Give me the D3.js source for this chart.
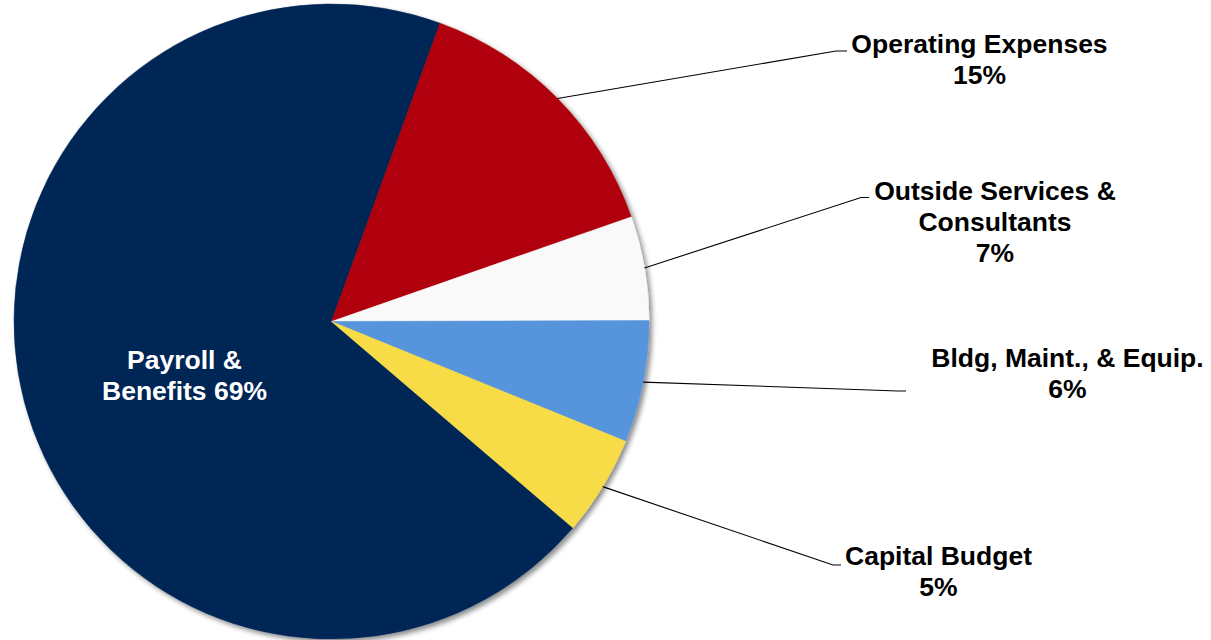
<!DOCTYPE html>
<html>
<head>
<meta charset="utf-8">
<script src="https://cdn.jsdelivr.net/npm/d3@7"></script>
<style>
  html, body { margin: 0; padding: 0; background: #ffffff; }
  svg { display: block; }
  text { font-family: "Liberation Sans", Arial, sans-serif; font-weight: bold; }
</style>
</head>
<body>
<svg id="chart" width="1211" height="640"></svg>
<script>
// ---- data ----
const categories = ["Payroll & Benefits", "Operating Expenses", "Outside Services & Consultants", "Bldg, Maint., & Equip.", "Capital Budget"];
const values = [69.3, 14.1, 5.3, 6.2, 5.1];          // slice sizes as drawn
const pctLabels = ["69%", "15%", "7%", "6%", "5%"];   // percentages printed on the chart
const labelLines = [
  ["Payroll &", "Benefits 69%"],
  ["Operating Expenses", "15%"],
  ["Outside Services &", "Consultants", "7%"],
  ["Bldg, Maint., & Equip.", "6%"],
  ["Capital Budget", "5%"]
];
const colors = ["#002856", "#b00009", "#f9f9f9", "#5795dc", "#f7dc46"];

// ---- layout ----
const W = 1211, H = 640;
const cx = 331.5, cy = 321.5, R = 317.5;
const fontSize = 26.5, lineH = 31.3;
// label anchor: x centre, first baseline, leader elbow x, leader end x, leader y
const labelLayout = [
  { x: 184.5, y: 368.5, inside: true },
  { x: 979.5, y: 52.5, ex: 836, lx: 847, ly: 51 },
  { x: 995, y: 199.5, ex: 861, lx: 869, ly: 197.5 },
  { x: 1067.5, y: 366.5, ex: 898, lx: 906, ly: 391 },
  { x: 938.5, y: 564.5, ex: 833, lx: 841, ly: 565 }
];

const svg = d3.select("#chart");
const defs = svg.append("defs");
const f = defs.append("filter").attr("id", "shadow")
  .attr("x", "-10%").attr("y", "-10%").attr("width", "120%").attr("height", "120%");
f.append("feDropShadow").attr("dx", 3).attr("dy", 3).attr("stdDeviation", 2.5)
  .attr("flood-color", "#000").attr("flood-opacity", 0.45);

const deg = Math.PI / 180;
const data = categories.map((c, i) => ({ name: c, value: values[i], color: colors[i], i }));
const total = d3.sum(values);
const payrollAngle = values[0] / total * 2 * Math.PI;
const start = 20 * deg - payrollAngle;

const pie = d3.pie().value(d => d.value).sort(null)
  .startAngle(start).endAngle(start + 2 * Math.PI);
const arcs = pie(data);
const arc = d3.arc().innerRadius(0).outerRadius(R);

const g = svg.append("g").attr("transform", `translate(${cx},${cy})`);
g.append("g").attr("filter", "url(#shadow)")
  .selectAll("path").data(arcs).join("path")
  .attr("d", arc)
  .attr("fill", d => d.data.color)
  .attr("stroke", d => d.data.color)
  .attr("stroke-width", 0.5);

// leader lines
arcs.forEach((a, i) => {
  const L = labelLayout[i];
  if (L.inside) return;
  const mid = (a.startAngle + a.endAngle) / 2;
  const px = cx + R * Math.sin(mid), py = cy - R * Math.cos(mid);
  svg.append("polyline")
    .attr("points", `${px},${py} ${L.ex},${L.ly} ${L.lx},${L.ly}`)
    .attr("fill", "none").attr("stroke", "#000").attr("stroke-width", 1.1);
});

// labels
labelLines.forEach((lines, i) => {
  const L = labelLayout[i];
  const t = svg.append("text")
    .attr("text-anchor", "middle")
    .attr("font-size", fontSize)
    .attr("fill", L.inside ? "#ffffff" : "#000000");
  lines.forEach((ln, k) => {
    t.append("tspan").attr("x", L.x).attr("y", L.y + k * lineH).text(ln);
  });
});
</script>
</body>
</html>
